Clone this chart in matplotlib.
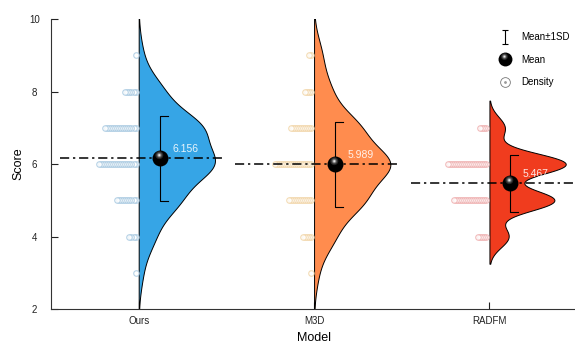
import numpy as np
import matplotlib
matplotlib.use('Agg')
import matplotlib.pyplot as plt
from matplotlib.path import Path
from matplotlib.lines import Line2D
from matplotlib.legend_handler import HandlerTuple

plt.rcParams['font.family'] = ['Liberation Sans', 'DejaVu Sans']

# data
models = ['Ours', 'M3D', 'RADFM']
scores = [3, 4, 5, 6, 7, 8, 9]
counts_ours = [1, 4, 10, 19, 16, 6, 1]
counts_m3d = [1, 5, 12, 19, 11, 4, 2]
counts_radfm = [0, 5, 17, 20, 4, 0, 0]
means = [6.156, 5.989, 5.467]
sds = [1.18, 1.18, 0.78]
bandwidths = [0.5, 0.5, 0.3]

VIOLIN = ['#36A5E6', '#FF8C4E', '#F03C1E']
DOTS = ['#9EC3DE', '#F0D09C', '#EDA5A5']

HALF_WIDTH = 0.435
MEAN_DX = 0.12
DOT_STEP = 0.0115


def kde(counts, bw, grid):
    dens = np.zeros_like(grid)
    for s, c in zip(scores, counts):
        dens += c * np.exp(-0.5 * ((grid - s) / bw) ** 2)
    return dens


def highlight(cx, cy, r):
    # fixed frame so every layer scales like the plain 'o' marker
    frame = Path([(-1, -1), (1, 1)], [Path.MOVETO, Path.MOVETO])
    return Path.make_compound_path(frame, Path.circle((cx, cy), r))


SHINE = [(0.5, '#262626'), (0.36, '#4d4d4d'), (0.24, '#8a8a8a'),
         (0.14, '#cfcfcf'), (0.06, '#ffffff')]


def draw_ball(ax, x, y, ms):
    ax.plot(x, y, marker='o', ms=ms, color='black', mew=0, zorder=6)
    for r, c in SHINE:
        ax.plot(x, y, marker=highlight(-0.15, 0.42, r), ms=ms, color=c,
                mew=0, zorder=7)


fig = plt.figure(figsize=(5.75, 3.43), dpi=100)
ax = fig.add_axes([0.0887, 0.099, 0.915, 0.8455])

all_counts = [counts_ours, counts_m3d, counts_radfm]
for i, (counts, bw) in enumerate(zip(all_counts, bandwidths)):
    x0 = i + 1
    present = [s for s, c in zip(scores, counts) if c > 0]
    grid = np.linspace(min(present) - 2.5 * bw, max(present) + 2.5 * bw, 400)
    dens = kde(counts, bw, grid)
    ax.fill_betweenx(grid, x0, x0 + dens / dens.max() * HALF_WIDTH,
                     facecolor=VIOLIN[i], edgecolor='black', lw=0.7, zorder=2)

    # density dots, leftmost drawn last
    for s, c in zip(scores, counts):
        if c == 0:
            continue
        xs = x0 - 0.018 - np.arange(c) * DOT_STEP
        ax.scatter(xs, np.full(c, s), s=16, facecolors='white',
                   edgecolors=DOTS[i], linewidths=0.8, alpha=0.75, zorder=3)

    m, sd = means[i], sds[i]
    ax.plot([x0 - 0.45, x0 + 0.48], [m, m], color='black', lw=1.1,
            ls=(0, (6, 2.5, 1.5, 2.5)), zorder=4)
    xm = x0 + MEAN_DX
    ax.plot([xm + 0.045, xm, xm, xm + 0.045], [m + sd, m + sd, m - sd, m - sd],
            color='black', lw=0.8, zorder=5)
    draw_ball(ax, xm, m, 11.5)
    ax.text(xm + 0.07, m + 0.25, f'{m:.3f}', color='white', alpha=0.88,
            fontsize=7.5, ha='left', va='center', zorder=8)

ax.set_xlim(0.5, 3.5)
ax.set_ylim(2, 10)
ax.set_xticks([1, 2, 3], models)
ax.set_yticks([2, 4, 6, 8, 10])
ax.tick_params(direction='in', length=5, width=0.8, labelsize=7,
               colors='#222222')
ax.tick_params(axis='y', pad=12)
ax.tick_params(axis='x', pad=5)
for lab in ax.get_yticklabels():
    lab.set_horizontalalignment('center')
for side in ['top', 'right']:
    ax.spines[side].set_visible(False)
for side in ['left', 'bottom']:
    ax.spines[side].set_color('#333333')
    ax.spines[side].set_linewidth(0.8)
ax.set_xlabel('Model', fontsize=9, labelpad=4)
ax.set_ylabel('Score', fontsize=9, labelpad=3)

# legend
ibar = Path([(-0.5, 1), (0.5, 1), (0, 1), (0, -1), (-0.5, -1), (0.5, -1)],
            [Path.MOVETO, Path.LINETO, Path.MOVETO, Path.LINETO,
             Path.MOVETO, Path.LINETO])
h_sd = Line2D([], [], marker=ibar, ms=10, ls='none', color='black',
              mfc='none', mew=0.8)
h_mean = tuple([Line2D([], [], marker='o', ms=10, color='black', mew=0, ls='none')] +
               [Line2D([], [], marker=highlight(-0.15, 0.42, r), ms=10, color=c,
                       mew=0, ls='none') for r, c in SHINE])
h_dens = (Line2D([], [], marker='o', ms=7, mfc='white', mec='#777777', mew=0.6, ls='none'),
          Line2D([], [], marker='o', ms=1, color='#999999', ls='none'))
ax.legend([h_sd, h_mean, h_dens], ['Mean±1SD', 'Mean', 'Density'],
          handler_map={tuple: HandlerTuple(ndivide=1, pad=0)},
          loc='upper left', bbox_to_anchor=(0.852, 0.955), frameon=False,
          fontsize=7, handlelength=1.2, handletextpad=1.1, labelspacing=1.3,
          borderpad=0, borderaxespad=0)

fig.savefig('out.png', dpi=100)
